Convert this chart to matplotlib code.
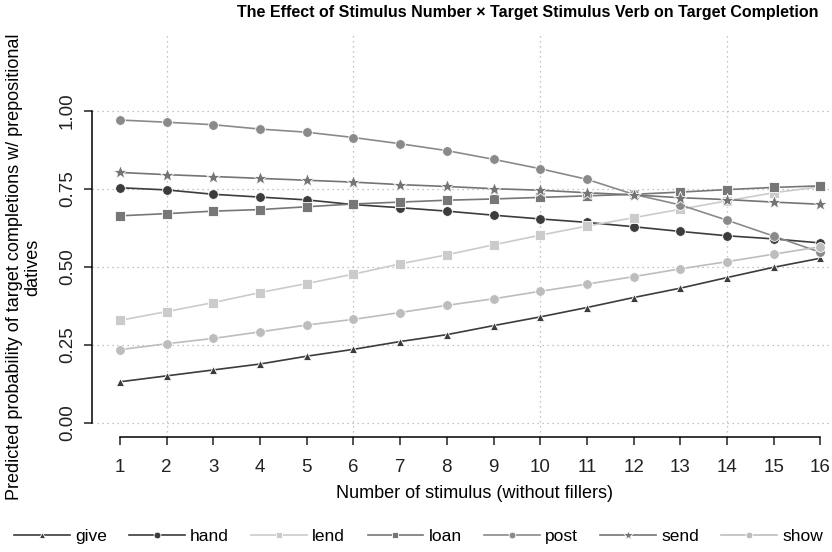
import matplotlib.pyplot as plt
import numpy as np

plt.rcParams['font.family'] = ['Liberation Sans', 'DejaVu Sans']

# Predicted probabilities
stimulus = np.arange(1, 17)
give = [0.132, 0.151, 0.170, 0.189, 0.214, 0.236, 0.261, 0.283, 0.312, 0.340, 0.370, 0.402, 0.432, 0.466, 0.499, 0.528]
hand = [0.754, 0.747, 0.733, 0.724, 0.715, 0.700, 0.690, 0.679, 0.666, 0.654, 0.643, 0.629, 0.614, 0.600, 0.590, 0.577]
lend = [0.329, 0.357, 0.386, 0.418, 0.447, 0.477, 0.510, 0.539, 0.571, 0.602, 0.631, 0.658, 0.685, 0.712, 0.738, 0.757]
loan = [0.664, 0.671, 0.679, 0.684, 0.693, 0.702, 0.708, 0.714, 0.718, 0.723, 0.728, 0.733, 0.740, 0.748, 0.755, 0.760]
post = [0.971, 0.964, 0.956, 0.942, 0.932, 0.915, 0.895, 0.873, 0.845, 0.815, 0.781, 0.733, 0.699, 0.650, 0.599, 0.547]
send = [0.803, 0.796, 0.790, 0.784, 0.778, 0.772, 0.764, 0.758, 0.751, 0.746, 0.738, 0.731, 0.722, 0.716, 0.708, 0.701]
show = [0.235, 0.254, 0.271, 0.292, 0.314, 0.332, 0.354, 0.377, 0.398, 0.422, 0.445, 0.469, 0.494, 0.517, 0.541, 0.565]

series = [
    ('give', give, '#3c3c3c', '^', 5.5),
    ('hand', hand, '#3c3c3c', 'o', 7),
    ('lend', lend, '#cbcbcb', 's', 7),
    ('loan', loan, '#777777', 's', 7),
    ('post', post, '#8a8a8a', 'o', 7),
    ('send', send, '#747474', '*', 10),
    ('show', show, '#bdbdbd', 'o', 7),
]

fig = plt.figure(figsize=(8.32, 5.52), dpi=100)
ax = fig.add_axes([92 / 832, 115 / 552, 740 / 832, 404 / 552])

ax.set_xlim(0.4, 16.25)
ax.set_ylim(-0.045, 1.25)

# dotted grid
for gx in [2, 6, 10, 14]:
    ax.axvline(gx, color='#b0b0b0', linestyle=(0, (1, 3)), linewidth=0.9, zorder=0)
for gy in [0, 0.25, 0.5, 0.75, 1.0]:
    ax.axhline(gy, color='#b0b0b0', linestyle=(0, (1, 3)), linewidth=0.9, zorder=0)

for name, vals, col, mk, ms in series:
    ax.plot(stimulus, vals, color=col, marker=mk, markersize=ms, linewidth=1.2,
            markeredgecolor='white', markeredgewidth=0.6, label=name)

ax.spines['top'].set_visible(False)
ax.spines['right'].set_visible(False)
ax.spines['left'].set_bounds(0, 1)
ax.spines['bottom'].set_bounds(1, 16)
ax.spines['left'].set_linewidth(1.1)
ax.spines['bottom'].set_linewidth(1.1)

ax.set_xticks(stimulus)
ax.set_yticks([0, 0.25, 0.5, 0.75, 1.0])
ax.set_yticklabels(['0.00', '0.25', '0.50', '0.75', '1.00'], rotation=90, va='center')
ax.tick_params(axis='both', length=5.5, width=1.1, labelsize=13.5, colors='#222222')
ax.tick_params(axis='x', pad=10)
ax.tick_params(axis='y', pad=6)

ax.set_xlabel('Number of stimulus (without fillers)', fontsize=13)
ax.xaxis.set_label_coords((8.6 - 0.4) / (16.25 - 0.4), -0.141)
ax.xaxis.label.set_va('center')
fig.text(23.5 / 832, (552 - 267) / 552,
         'Predicted probability of target completions w/ prepositional\ndatives',
         rotation=90, ha='center', va='center', fontsize=13, linespacing=1.1)

fig.text(528 / 832, 1 - 12 / 552,
         'The Effect of Stimulus Number \u00d7 Target Stimulus Verb on Target Completion',
         ha='center', va='center', fontsize=11.5, fontweight='bold')

fig.legend(loc='center left', bbox_to_anchor=(14 / 832, 1 - 536 / 552), ncol=7, frameon=False,
           fontsize=12.5, handlelength=3.2, handletextpad=0.3, columnspacing=1.3,
           markerscale=0.7, borderaxespad=0, borderpad=0)

fig.savefig('out.png', dpi=100)
